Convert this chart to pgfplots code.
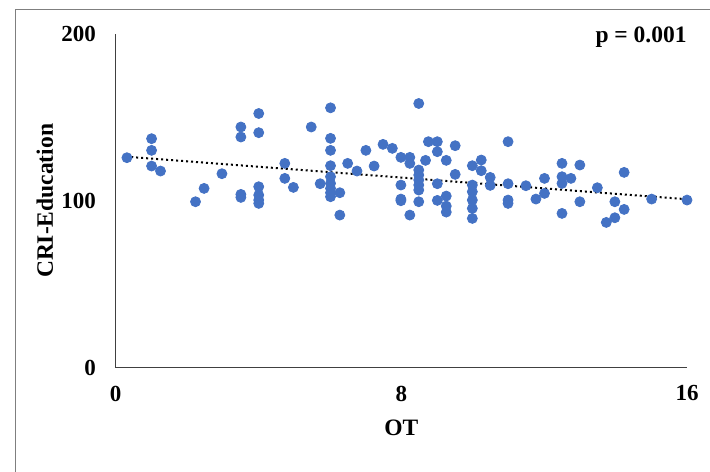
\documentclass[border=0pt]{standalone}
\usepackage{pgfplots}
\pgfplotsset{compat=1.18}
\usepackage{fontspec}
\setmainfont{Liberation Serif}
\definecolor{dotblue}{HTML}{4472C4}
\definecolor{framegray}{HTML}{7F7F7F}
\definecolor{axisgray}{HTML}{404040}

\begin{document}
\begin{tikzpicture}
\useasboundingbox (0,0) rectangle (355pt,235.5pt);
\draw[framegray, line width=0.6pt] (7.9pt,-2pt) -- (7.9pt,230.85pt) -- (360pt,230.85pt);
\begin{axis}[
    at={(57.75pt,51.65pt)}, anchor=south west,
    scale only axis,
    width=285.75pt, height=166.8pt,
    xmin=0, xmax=16, ymin=0, ymax=200,
    xtick={0,8,16}, ytick={0,100,200},
    axis x line=bottom, axis y line=left,
    axis line style={-, axisgray, line width=0.6pt},
    major tick length=0pt,
    tick label style={font=\fontsize{11.5}{13}\selectfont\bfseries},
    /pgf/number format/assume math mode=true,
    xticklabel shift=5.5pt,
    yticklabel shift=6.3pt,
    xlabel={OT}, ylabel={CRI-Education},
    label style={font=\fontsize{11.75}{13}\selectfont\bfseries},
    xlabel style={at={(axis description cs:0.5,-0.18)}, anchor=center},
    ylabel style={at={(axis description cs:-0.1234,0.5)}, anchor=center},
    clip=false,
]
% trend line
\addplot[black, line width=1pt, dash pattern=on 1pt off 1.5pt] coordinates {(0.3,126.5) (16,101)};
% observations
\addplot[only marks, mark=*, mark size=2.5pt, mark options={fill=dotblue, draw=dotblue}] coordinates {
(0.32,125.9) (1.01,137.3) (1.01,130.3) (1.01,120.9) (1.26,117.9)
(2.24,99.5) (2.48,107.5) (2.98,116.3)
(3.51,144.3) (3.51,138.3) (3.51,103.9) (3.51,102.1)
(4.01,152.4) (4.01,140.9) (4.01,108.5) (4.01,103.5) (4.01,100.5) (4.01,98.5)
(4.74,122.5) (4.74,113.5) (4.98,108.1) (5.48,144.3) (5.73,110.3)
(6.02,155.8) (6.02,137.5) (6.02,130.3) (6.02,121.1) (6.02,114.5) (6.02,110.5)
(6.02,107.5) (6.02,104.9) (6.02,102.5)
(6.28,104.9) (6.28,91.5) (6.50,122.5) (6.76,117.9) (7.01,130.3) (7.24,120.9)
(7.49,133.9) (7.75,131.5)
(7.99,126.1) (7.99,109.5) (7.99,101.1) (7.99,100.1)
(8.24,126.1) (8.24,122.5) (8.24,91.5)
(8.49,158.4) (8.49,118.5) (8.49,115.5) (8.49,112.5) (8.49,109.5) (8.49,106.5) (8.49,99.5)
(8.68,124.3) (8.76,135.5)
(9.01,135.5) (9.01,129.5) (9.01,110.3) (9.01,100.3)
(9.26,124.3) (9.26,102.9) (9.26,96.9) (9.26,93.3)
(9.51,133.1) (9.51,115.9)
(9.99,121.1) (9.99,109.5) (9.99,105.5) (9.99,100.5) (9.99,95.5) (9.99,89.5)
(10.24,124.5) (10.24,118.1) (10.49,114.1) (10.49,109.3)
(10.99,135.5) (10.99,110.3) (10.99,100.5) (10.99,98.5)
(11.49,109.1) (11.77,101.1) (12.01,113.5) (12.01,104.5)
(12.50,122.5) (12.50,114.5) (12.50,110.5) (12.50,92.5) (12.75,113.5)
(13.00,121.5) (13.00,99.5) (13.49,107.9) (13.74,87.1)
(13.98,99.5) (13.98,89.9) (14.24,117.1) (14.24,94.9)
(15.01,101.1) (16.0,100.5)
};
\node[anchor=base east, font=\fontsize{11.75}{13}\selectfont\bfseries, inner sep=0pt]
    at ([yshift=-4.3pt]rel axis cs:1,1) {p = 0.001};
\end{axis}
\end{tikzpicture}
\end{document}
